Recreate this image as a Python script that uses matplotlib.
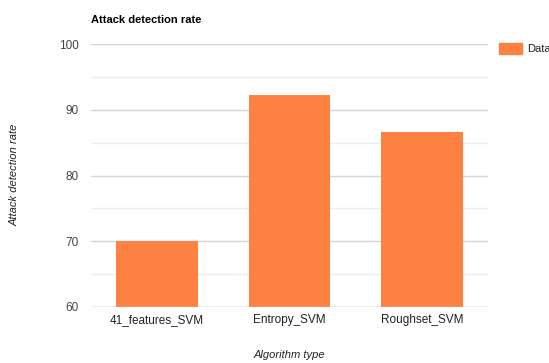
import matplotlib
matplotlib.use('Agg')
import matplotlib.pyplot as plt
from matplotlib.patches import Rectangle

plt.rcParams['font.family'] = ['Liberation Sans', 'DejaVu Sans']

##### data #####
algorithms = ['41_features_SVM', 'Entropy_SVM', 'Roughset_SVM']
detection_rate = [70.0, 92.3, 86.6]
y_ticks = [60, 70, 80, 90, 100]
y_minor = [65, 75, 85, 95]

bar_color = '#FF8142'
text_color = '#444444'

fig = plt.figure(figsize=(5.49, 3.63), dpi=100)
W, H = 549, 363
ax = fig.add_axes([91 / W, 1 - 306.7 / H, (488 - 91) / W, (306.7 - 44.3) / H])

x = range(len(algorithms))
ax.bar(x, detection_rate, width=0.615, color=bar_color, zorder=3, bottom=0)

ax.set_xlim(-0.5, len(algorithms) - 0.5)
ax.set_ylim(60, 100)
ax.set_yticks(y_ticks)
ax.set_yticks(y_minor, minor=True)
ax.set_xticks(list(x))
ax.set_xticklabels(algorithms)

ax.grid(axis='y', which='major', color='#d6d6d6', linewidth=1, zorder=0)
ax.grid(axis='y', which='minor', color='#ededed', linewidth=1, zorder=0)
for s in ax.spines.values():
    s.set_visible(False)
ax.axhline(60, color='#cccccc', linewidth=1, zorder=4)

ax.tick_params(axis='both', which='both', length=0, labelsize=8.5, colors=text_color)
ax.tick_params(axis='y', pad=9)
ax.tick_params(axis='x', pad=5)
for lab in ax.get_yticklabels():
    lab.set_color(text_color)
for lab in ax.get_xticklabels():
    lab.set_color('#222222')

fig.text(91 / W, 1 - 20 / H, 'Attack detection rate', fontsize=8, fontweight='bold',
         color='#000000', va='center', ha='left')
fig.text(15 / W, 1 - 175 / H, 'Attack detection rate', fontsize=8, fontstyle='italic',
         color='#222222', rotation=90, va='center', ha='center')
fig.text(289 / W, 1 - 355 / H, 'Algorithm type', fontsize=8, fontstyle='italic',
         color='#222222', va='center', ha='center')

# legend
fig.patches.append(Rectangle((499 / W, 1 - 54 / H), 23 / W, 11 / H,
                             transform=fig.transFigure, color=bar_color))
fig.text(527 / W, 1 - 48.5 / H, 'Data', fontsize=8, color='#222222', va='center', ha='left')

fig.savefig('out.png', dpi=100)
